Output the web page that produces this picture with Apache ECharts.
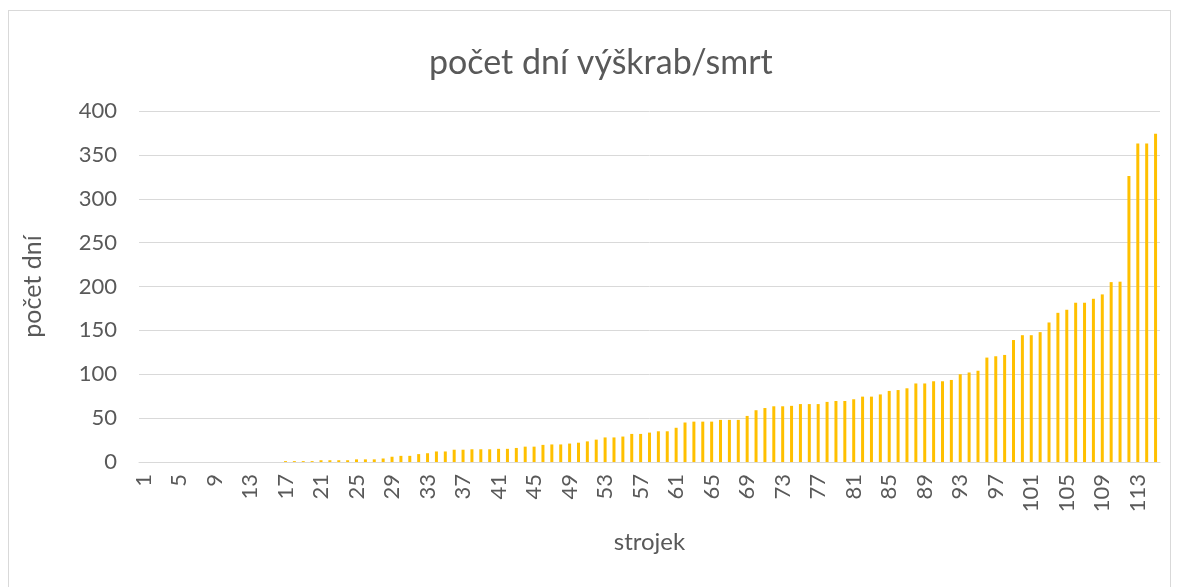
<!DOCTYPE html>
<html lang="cs">
<head>
    <meta charset="UTF-8">
    <title>počet dní výškrab/smrt</title>
    <script src="https://cdn.jsdelivr.net/npm/echarts@6/dist/echarts.min.js"></script>
    <style>
        * { margin: 0; padding: 0; box-sizing: border-box; }
        body { background: #fff; width: 1179px; height: 587px; overflow: hidden; position: relative; }
        #frame {
            position: absolute; left: 8px; top: 10px; width: 1163px; height: 600px;
            border: 1px solid #d9d9d9; pointer-events: none;
        }
        #chart { position: absolute; left: 0; top: 0; width: 1179px; height: 587px; }
    </style>
</head>
<body>
    <div id="chart"></div>
    <div id="frame"></div>
    <script>
        // strojek 1..115
        var strojek = [];
        for (var i = 1; i <= 115; i++) strojek.push(String(i));

        // počet dní
        var dnyA = [0, 0, 0, 0, 0, 0, 0, 0, 0, 0, 0, 0, 0, 0, 0, 0,
            1, 1, 1, 1, 2, 2, 2, 2, 3, 3, 3, 4, 6, 7, 7, 9, 10, 12, 12, 14, 14, 14.5, 14.5, 14.5,
            15, 15, 16, 17.5, 17.5, 19.5, 20, 20, 21, 22, 23.5, 25.5, 28, 28, 29, 32, 32, 33.5, 35, 35];
        var dnyB = [39, 45, 46, 46, 46, 48, 48, 48, 52.5, 59, 61.5, 63.5, 63.5, 64, 66, 66, 66, 68.5, 69.5, 69.5,
            71.5, 74.5, 74.5, 77, 81, 82, 84, 89.5, 89.5, 92, 92, 93.5, 100, 102, 104, 119, 120.5, 122, 139, 144.5,
            144.5, 148, 159, 170, 173.5, 181.5, 181.5, 186, 191, 205, 205.5, 326, 363, 363, 374];
        var dny = dnyA.concat(dnyB);

        var yTicks = [0, 50, 100, 150, 200, 250, 300, 350, 400];

        var textColor = '#595959';
        var fontName = 'Lato, "Open Sans", sans-serif';

        var chart = echarts.init(document.getElementById('chart'));
        chart.setOption({
            animation: false,
            textStyle: { fontFamily: fontName },
            title: {
                text: 'počet dní výškrab/smrt',
                left: 424,
                top: 41,
                textStyle: { fontSize: 34, fontWeight: 'normal', color: textColor, fontFamily: fontName }
            },
            grid: { left: 139, right: 19, top: 111, bottom: 125 },
            xAxis: {
                type: 'category',
                data: strojek,
                name: 'strojek',
                nameLocation: 'middle',
                nameGap: 68,
                nameTextStyle: { fontSize: 24, color: textColor },
                axisLine: { lineStyle: { color: '#d9d9d9', width: 1 } },
                axisTick: { show: false },
                axisLabel: { interval: 3, rotate: 90, margin: 12, fontSize: 22, color: textColor }
            },
            yAxis: {
                type: 'value',
                min: yTicks[0],
                max: yTicks[yTicks.length - 1],
                interval: 50,
                name: 'počet dní',
                nameLocation: 'middle',
                nameGap: 94,
                nameRotate: 90,
                nameTextStyle: { fontSize: 25, color: textColor },
                axisLine: { show: false },
                axisTick: { show: false },
                axisLabel: { margin: 22, fontSize: 22, color: textColor },
                splitLine: { lineStyle: { color: '#d9d9d9', width: 1 } }
            },
            series: [{
                type: 'bar',
                data: dny,
                barWidth: 3,
                itemStyle: { color: '#ffc000' }
            }]
        });
    </script>
</body>
</html>
